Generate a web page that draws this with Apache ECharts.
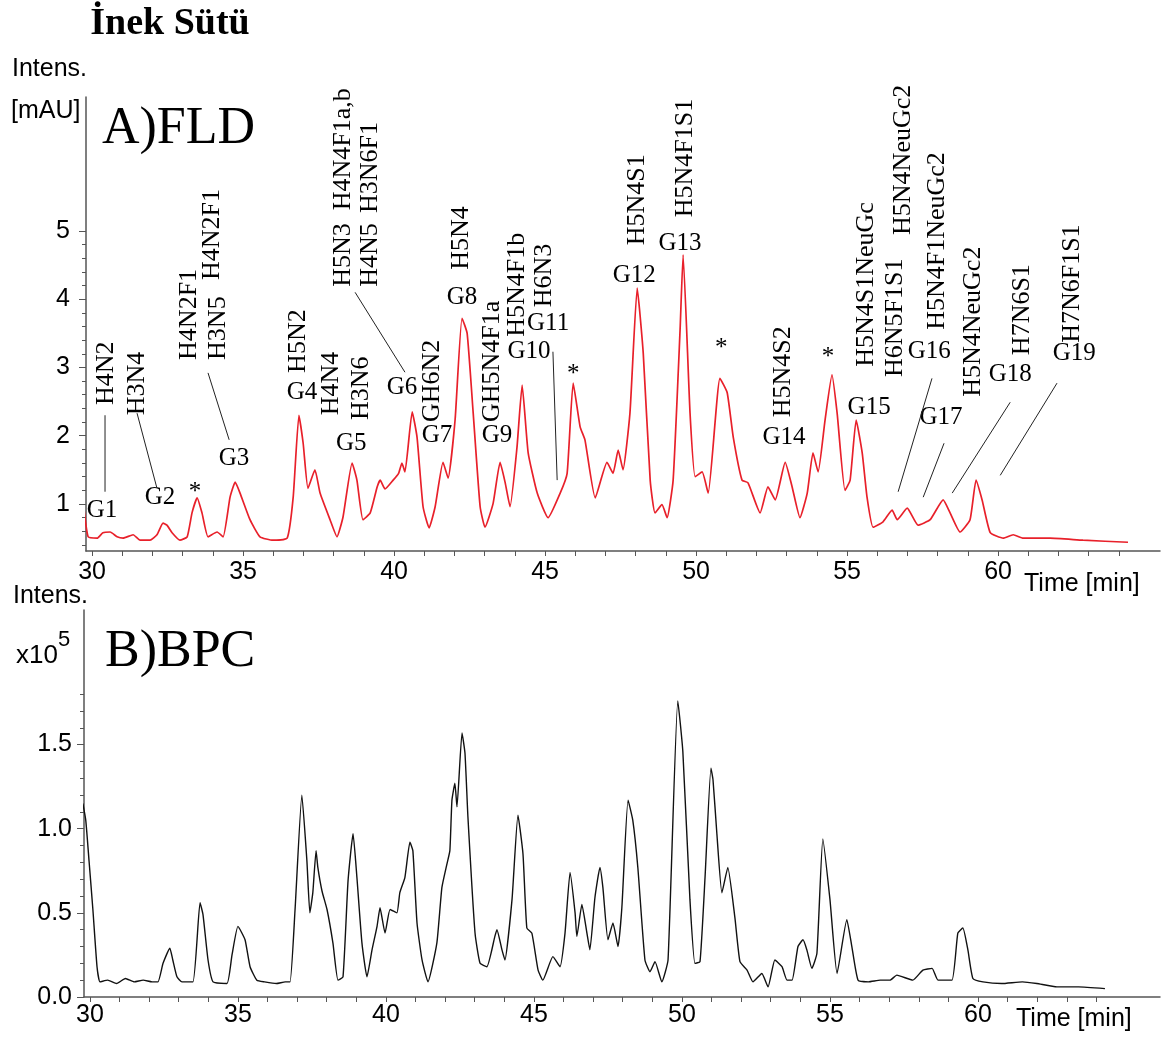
<!DOCTYPE html>
<html>
<head>
<meta charset="utf-8">
<script src="https://cdn.jsdelivr.net/npm/echarts@6/dist/echarts.min.js"></script>
<style>
  html, body { margin: 0; padding: 0; background: #fff; }
  #main { width: 1163px; height: 1041px; }
</style>
</head>
<body>
<div id="main"></div>
<script type="text/javascript">
// FLD trace (panel A), time in min, intensity in mAU
var fldTime = [29.70,29.87,30.17,30.36,30.60,30.83,31.03,31.36,31.59,31.92,32.15,32.35,32.48,32.65,32.91,33.15,33.31,33.48,33.64,33.84,
  34.14,34.34,34.57,34.74,34.90,35.23,35.56,35.99,36.46,36.66,36.85,36.99,37.15,37.38,37.55,37.88,38.11,38.31,38.61,38.77,
  38.97,39.21,39.44,39.54,39.70,39.97,40.15,40.26,40.36,40.60,40.76,40.96,41.16,41.36,41.62,41.79,42.02,42.25,42.42,42.62,
  42.85,43.01,43.28,43.51,43.68,43.84,44.07,44.24,44.44,44.74,45.10,45.50,45.73,45.93,46.16,46.32,46.66,47.05,47.25,47.42,
  47.58,47.81,48.05,48.25,48.48,48.64,48.87,49.04,49.24,49.47,49.57,49.80,49.97,50.20,50.40,50.79,51.03,51.23,51.52,51.72,
  52.12,52.38,52.62,52.95,53.18,53.44,53.68,53.87,54.04,54.27,54.50,54.67,54.93,55.10,55.30,55.50,55.66,55.86,56.19,56.49,
  56.66,56.99,57.35,57.75,58.18,58.41,58.74,59.07,59.27,59.47,59.74,60.17,60.50,60.83,61.72,62.81,64.30];
var fldSignal = [1.06,0.52,0.50,0.58,0.59,0.52,0.50,0.55,0.47,0.47,0.55,0.72,0.69,0.58,0.47,0.52,0.87,1.09,0.87,0.52,
  0.59,0.52,1.10,1.32,1.16,0.77,0.52,0.47,0.50,1.10,2.30,1.89,1.23,1.50,1.16,0.77,0.52,0.81,1.60,1.35,
  0.77,0.87,1.25,1.35,1.22,1.35,1.45,1.60,1.47,2.35,1.98,0.96,0.65,0.96,1.61,1.38,2.23,3.72,3.50,2.33,
  0.96,0.66,1.01,1.61,1.31,0.96,1.83,2.74,1.75,1.16,0.80,1.16,1.45,2.77,2.13,1.94,1.09,1.61,1.45,1.79,
  1.50,2.33,4.16,3.21,1.35,0.87,0.99,0.80,1.35,3.55,4.65,2.33,1.40,1.47,1.16,2.84,2.63,1.98,1.35,1.31,
  0.87,1.25,1.06,1.61,1.25,0.80,1.16,1.75,1.47,2.23,2.89,2.33,1.20,1.35,2.23,1.75,1.10,0.66,0.74,0.91,
  0.77,0.94,0.69,0.77,1.06,0.87,0.59,0.77,1.35,1.06,0.58,0.50,0.55,0.50,0.50,0.47,0.44];

// BPC trace (panel B), intensity x10^5
var bpcTime = [29.76,29.86,29.97,30.10,30.24,30.34,30.60,30.90,31.20,31.50,31.80,32.10,32.30,32.47,32.70,32.80,32.94,33.11,33.48,33.72,
  33.82,33.99,34.16,34.63,34.80,35.00,35.24,35.41,35.64,35.90,36.30,36.60,36.76,36.93,37.16,37.33,37.43,37.53,37.64,37.70,
  37.84,38.01,38.21,38.38,38.55,38.72,38.89,39.02,39.19,39.36,39.53,39.70,39.80,39.97,40.14,40.37,40.47,40.64,40.81,40.91,
  41.05,41.22,41.42,41.72,41.89,42.06,42.16,42.23,42.33,42.40,42.57,42.67,42.77,43.01,43.18,43.41,43.68,43.75,43.92,44.02,
  44.26,44.46,44.63,44.76,44.93,45.14,45.30,45.64,45.88,46.05,46.22,46.39,46.45,46.62,46.79,46.89,47.06,47.23,47.33,47.50,
  47.67,47.84,47.97,48.18,48.34,48.51,48.75,48.92,49.09,49.32,49.53,49.86,50.03,50.27,50.44,50.61,50.78,50.98,51.05,51.18,
  51.35,51.55,51.79,51.96,52.20,52.40,52.70,52.91,53.14,53.38,53.55,53.72,53.92,54.09,54.22,54.39,54.56,54.76,55.00,55.24,
  55.57,55.74,55.95,56.30,56.70,57.03,57.26,57.80,58.14,58.45,58.65,59.12,59.32,59.49,59.66,59.83,60.17,60.80,61.50,61.99,
  62.67,63.40,64.29];
var bpcSignal = [1.15,1.05,0.81,0.52,0.18,0.09,0.10,0.08,0.11,0.09,0.10,0.09,0.09,0.20,0.29,0.22,0.12,0.09,0.09,0.56,
  0.49,0.22,0.09,0.08,0.25,0.42,0.34,0.18,0.10,0.09,0.08,0.09,0.09,0.52,1.20,0.81,0.50,0.62,0.87,0.77,
  0.63,0.52,0.32,0.10,0.12,0.69,0.97,0.71,0.32,0.12,0.28,0.42,0.53,0.38,0.52,0.50,0.62,0.71,0.92,0.87,
  0.44,0.22,0.09,0.32,0.65,0.79,0.87,1.17,1.27,1.13,1.57,1.45,1.07,0.38,0.20,0.18,0.36,0.40,0.28,0.22,
  0.58,1.08,0.85,0.41,0.38,0.16,0.10,0.24,0.18,0.38,0.74,0.50,0.36,0.55,0.38,0.28,0.59,0.77,0.65,0.34,
  0.44,0.30,0.53,1.17,1.05,0.77,0.22,0.15,0.21,0.09,0.22,1.76,1.46,0.58,0.20,0.21,0.71,1.36,1.29,0.97,
  0.62,0.77,0.47,0.21,0.16,0.09,0.14,0.06,0.22,0.18,0.10,0.10,0.30,0.34,0.28,0.17,0.26,0.94,0.58,0.14,
  0.46,0.30,0.10,0.09,0.10,0.10,0.13,0.10,0.16,0.17,0.10,0.10,0.38,0.41,0.28,0.11,0.09,0.08,0.09,0.08,
  0.06,0.06,0.05];

// annotations of panel A: [text, time, intensity] (rotated labels start at the given point)
var rotLabels = [
  ['H4N2', 30.46, 2.45], ['H3N4', 31.49, 2.30], ['H4N2F1', 33.21, 3.11], ['H3N5', 34.17, 3.11],
  ['H4N2F1', 33.97, 4.28], ['H5N2', 36.82, 2.92], ['H4N4', 37.91, 2.30], ['H3N6', 38.91, 2.23],
  ['H5N3', 38.31, 4.18], ['H4N4F1a,b', 38.31, 5.30], ['H4N5', 39.21, 4.18], ['H3N6F1', 39.21, 5.26],
  ['GH6N2', 41.26, 2.20], ['H5N4', 42.22, 4.43], ['GH5N4F1a', 43.25, 2.20], ['H5N4F1b', 44.07, 3.45],
  ['H6N3', 44.97, 3.88], ['H5N4S1', 48.05, 4.79], ['H5N4F1S1', 49.64, 5.20], ['H5N4S2', 52.88, 2.27],
  ['H5N4S1NeuGc', 55.63, 3.01], ['H6N5F1S1', 56.59, 2.86], ['H5N4NeuGc2', 56.85, 4.94],
  ['H5N4F1NeuGc2', 57.98, 3.55], ['H5N4NeuGc2', 59.17, 2.57], ['H7N6S1', 60.79, 3.18], ['H7N6F1S1', 62.45, 3.36]
];
var peakLabels = [
  ['G1', 30.33, 0.91], ['G2', 32.25, 1.09], ['*', 33.41, 1.26], ['G3', 34.70, 1.67], ['G4', 36.95, 2.63],
  ['G5', 38.58, 1.89], ['G6', 40.26, 2.71], ['G7', 41.42, 2.00], ['G8', 42.25, 4.02], ['G9', 43.41, 2.00],
  ['G10', 44.47, 3.23], ['G11', 45.10, 3.64], ['*', 45.93, 2.99], ['G12', 47.95, 4.34], ['G13', 49.47, 4.81],
  ['*', 50.83, 3.36], ['G14', 52.91, 1.97], ['*', 54.37, 3.23], ['G15', 55.73, 2.42], ['G16', 57.72, 3.23],
  ['G17', 58.11, 2.27], ['G18', 60.40, 2.90], ['G19', 62.52, 3.20]
];
// leader lines [t1, v1, t2, v2]
var leaderLines = [
  [30.43, 2.30, 30.43, 1.18], [31.49, 2.33, 32.15, 1.23], [33.84, 2.92, 34.54, 1.94],
  [38.71, 4.10, 40.36, 2.93], [45.26, 3.23, 45.40, 1.35], [57.81, 2.84, 56.69, 1.18],
  [58.21, 1.89, 57.52, 1.10], [60.40, 2.49, 58.48, 1.16], [61.95, 2.77, 60.07, 1.42]
];

var timeLabels = [30, 35, 40, 45, 50, 55, 60];
var fldLabels = [1, 2, 3, 4, 5];
var bpcLabels = [0, 0.5, 1.0, 1.5];

var SANS = "'Liberation Sans', Arial, sans-serif";
var SERIF = "'Liberation Serif', 'Times New Roman', serif";
var AXIS = '#555';

function zip(a, b) {
  var out = [];
  for (var i = 0; i < a.length; i++) out.push([a[i], b[i]]);
  return out;
}
function steps(from, to, step) {
  var out = [];
  for (var v = from; v <= to + 1e-9; v += step) out.push(Math.round(v * 100) / 100);
  return out;
}

var minuteTicks = steps(30, 64, 1);

function xAxisCfg(grid, max, margin) {
  return {
    type: 'value', gridIndex: grid, min: 29.8, max: max,
    axisLine: { show: true, onZero: false, lineStyle: { color: AXIS, width: 1.5 } },
    axisTick: { show: true, customValues: minuteTicks, length: 5, lineStyle: { color: AXIS } },
    axisLabel: { customValues: timeLabels, fontFamily: SANS, fontSize: 25, color: '#000', margin: margin },
    splitLine: { show: false }
  };
}

var chart = echarts.init(document.getElementById('main'));
var option = {
  backgroundColor: '#fff',
  animation: false,
  grid: [
    { left: 86, top: 97, width: 1074, height: 454 },
    { left: 84, top: 610, width: 1076, height: 387 }
  ],
  xAxis: [xAxisCfg(0, 65.36, 9), xAxisCfg(1, 66.15, 6)],
  yAxis: [
    {
      type: 'value', gridIndex: 0, position: 'left', min: 0.312, max: 6.96,
      axisLine: { show: true, lineStyle: { color: AXIS, width: 1.5 } },
      axisTick: { show: true, customValues: fldLabels, length: 7, lineStyle: { color: AXIS } },
      axisLabel: { customValues: fldLabels, fontFamily: SANS, fontSize: 25, color: '#000', margin: 16 },
      splitLine: { show: false }
    },
    {
      // minor ticks of panel A
      type: 'value', gridIndex: 0, position: 'left', offset: 0, min: 0.312, max: 6.96,
      axisLine: { show: false },
      axisTick: { show: true, customValues: steps(0.4, 4.8, 0.2), length: 4, lineStyle: { color: AXIS } },
      axisLabel: { show: false },
      splitLine: { show: false }
    },
    {
      type: 'value', gridIndex: 1, position: 'left', min: 0, max: 2.3,
      axisLine: { show: true, lineStyle: { color: AXIS, width: 1.5 } },
      axisTick: { show: true, customValues: bpcLabels, length: 7, lineStyle: { color: AXIS } },
      axisLabel: {
        customValues: bpcLabels, fontFamily: SANS, fontSize: 25, color: '#000', margin: 12,
        formatter: function (v) { return v.toFixed(1); }
      },
      splitLine: { show: false }
    },
    {
      // minor ticks of panel B
      type: 'value', gridIndex: 1, position: 'left', offset: 0, min: 0, max: 2.3,
      axisLine: { show: false },
      axisTick: { show: true, customValues: steps(0.1, 1.8, 0.1), length: 4, lineStyle: { color: AXIS } },
      axisLabel: { show: false },
      splitLine: { show: false }
    }
  ],
  series: [
    {
      name: 'FLD', type: 'line', xAxisIndex: 0, yAxisIndex: 0,
      data: zip(fldTime, fldSignal), showSymbol: false, smooth: 0.15,
      lineStyle: { color: '#e8202a', width: 1.7 }
    },
    {
      name: 'BPC', type: 'line', xAxisIndex: 1, yAxisIndex: 2,
      data: zip(bpcTime, bpcSignal), showSymbol: false, smooth: 0.15,
      lineStyle: { color: '#111', width: 1.4 }
    }
  ]
};
chart.setOption(option);

// texts and annotations placed through the chart's own scales
function toPx(t, v) {
  return chart.convertToPixel({ xAxisIndex: 0, yAxisIndex: 0 }, [t, v]);
}
function txt(text, x, y, font, align, vAlign, rot) {
  return {
    type: 'text', x: x, y: y, rotation: rot || 0, silent: true,
    style: {
      text: text, font: font, fill: '#000',
      align: align, verticalAlign: vAlign, textAlign: align, textVerticalAlign: vAlign
    }
  };
}

var g = [];
g.push(txt('İnek Sütü', 170, 24, 'bold 38px ' + SERIF, 'center', 'middle'));
g.push(txt('Intens.', 12, 69, '25px ' + SANS, 'left', 'middle'));
g.push(txt('[mAU]', 11, 111, '25px ' + SANS, 'left', 'middle'));
g.push(txt('A)FLD', 102, 129, '52px ' + SERIF, 'left', 'middle'));
g.push(txt('Time [min]', 1024, 584, '25px ' + SANS, 'left', 'middle'));
g.push(txt('Intens.', 13, 596, '25px ' + SANS, 'left', 'middle'));
g.push(txt('x10', 16, 656, '26px ' + SANS, 'left', 'middle'));
g.push(txt('5', 58, 640, '22px ' + SANS, 'left', 'middle'));
g.push(txt('B)BPC', 105, 652, '52px ' + SERIF, 'left', 'middle'));
g.push(txt('Time [min]', 1016, 1019, '25px ' + SANS, 'left', 'middle'));

rotLabels.forEach(function (r) {
  var p = toPx(r[1], r[2]);
  g.push(txt(r[0], p[0], p[1], '26px ' + SERIF, 'left', 'middle', Math.PI / 2));
});
peakLabels.forEach(function (r) {
  var p = toPx(r[1], r[2]);
  var dy = r[0] === '*' ? 6 : 0;
  g.push(txt(r[0], p[0], p[1] + dy, '25px ' + SERIF, 'center', 'middle'));
});
leaderLines.forEach(function (l) {
  var a = toPx(l[0], l[1]), b = toPx(l[2], l[3]);
  g.push({
    type: 'line', silent: true,
    shape: { x1: a[0], y1: a[1], x2: b[0], y2: b[1] },
    style: { stroke: '#222', lineWidth: 1 }
  });
});

chart.setOption({ graphic: { elements: g } });
</script>
</body>
</html>
